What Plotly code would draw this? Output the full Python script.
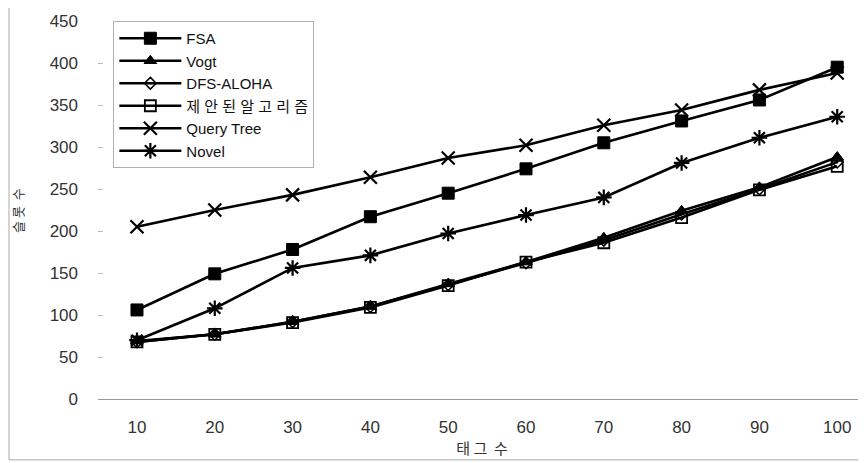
import plotly.graph_objects as go

tags = [10, 20, 30, 40, 50, 60, 70, 80, 90, 100]
fsa = [106, 149, 178, 217, 245, 274, 305, 331, 356, 395]
vogt = [69, 77, 92, 110, 137, 163, 192, 224, 252, 288]
dfs_aloha = [68, 77, 92, 110, 136, 162, 189, 220, 250, 282]
proposed = [68, 77, 91, 109, 135, 163, 186, 216, 249, 277]
query_tree = [205, 225, 243, 264, 287, 302, 326, 344, 368, 388]
novel = [70, 108, 156, 171, 197, 219, 240, 281, 311, 336]
y_ticks = [0, 50, 100, 150, 200, 250, 300, 350, 400, 450]

series = [
    ("FSA", fsa, "square", 12, 1),
    ("Vogt", vogt, "triangle-up", 11, 1),
    ("DFS-ALOHA", dfs_aloha, "diamond-open-dot", 9, 1.5),
    ("제 안 된 알 고 리 즘", proposed, "square-open", 11, 1.8),
    ("Query Tree", query_tree, "x-thin-open", 13, 2.2),
    ("Novel", novel, "asterisk-open", 13, 2.2),
]

fig = go.Figure()
for i, (name, vals, sym, size, lw) in enumerate(series):
    fig.add_trace(go.Scatter(
        x=tags, y=vals, name=name, mode="lines+markers",
        legendgroup=str(i),
        line=dict(color="black", width=2.6),
        marker=dict(symbol=sym, size=size, color="black",
                    line=dict(color="black", width=lw)),
    ))

fig.update_layout(
    width=858, height=455,
    margin=dict(l=90, r=0, t=13, b=64),
    paper_bgcolor="white", plot_bgcolor="white",
    font=dict(family="Liberation Sans, Arial, sans-serif", color="#222"),
    showlegend=True,
    legend=dict(
        x=0.02, y=1.0, xanchor="left", yanchor="top",
        bordercolor="#b0b0b0", borderwidth=1, bgcolor="white",
        font=dict(family="Liberation Sans, Noto Sans CJK KR, sans-serif", size=15, color="#111"),
        traceorder="grouped", tracegroupgap=0,
        itemwidth=62,
    ),
    xaxis=dict(
        range=[4.99, 103.7], tickvals=tags, ticktext=[str(t) for t in tags],
        showgrid=False, zeroline=False, showline=True, linecolor="#999", linewidth=1,
        ticks="", tickfont=dict(size=17, color="#333"), ticklabelstandoff=13,
        title=dict(text="태 그  수", font=dict(family="Noto Sans CJK KR", size=15, color="#333"), standoff=4),
    ),
    yaxis=dict(
        range=[0, 450], tickvals=y_ticks,
        showgrid=False, zeroline=False, showline=False,
        ticks="inside", ticklen=5, tickcolor="#bbb",
        tickfont=dict(size=17, color="#333"), ticklabelstandoff=19,
    ),
    annotations=[dict(
        text="슬 롯  수", textangle=-90, xref="paper", yref="paper",
        x=-0.1055, y=0.5, xanchor="center", yanchor="middle", showarrow=False,
        font=dict(family="Noto Sans CJK KR", size=13, color="#333"),
    )],
    shapes=[dict(type="rect", xref="paper", yref="paper",
                 x0=-0.1159, x1=1.02, y0=-0.161, y1=1.06,
                 line=dict(color="#aaa", width=1), layer="below")],
)

fig.write_html("out.html")
